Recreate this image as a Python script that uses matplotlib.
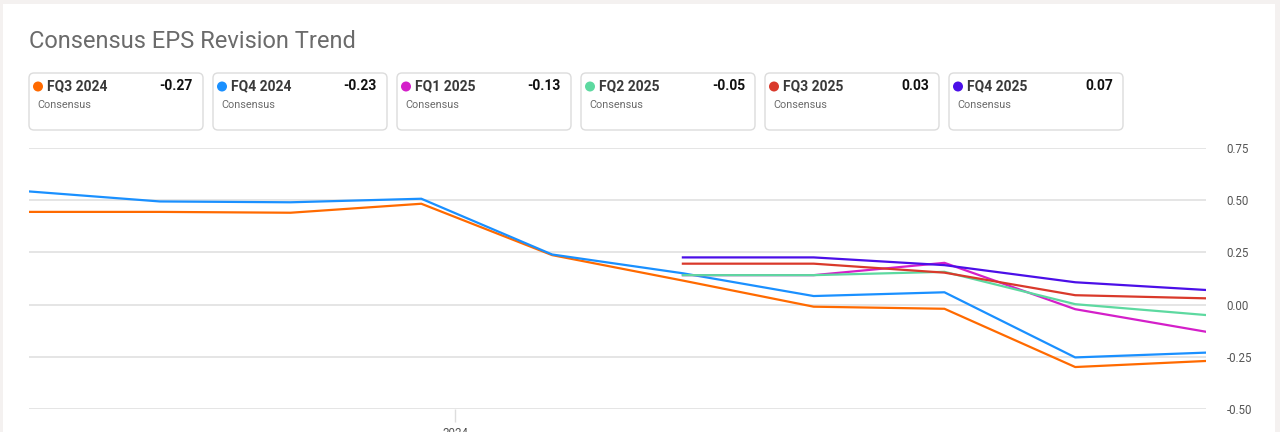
import numpy as np
import matplotlib
matplotlib.use("Agg")
import matplotlib.pyplot as plt
from matplotlib.patches import FancyBboxPatch, Rectangle, Circle

plt.rcParams['font.family'] = ['Roboto', 'DejaVu Sans']

# series data (10 revision points), nan = not yet estimated
quarters = ["FQ3 2024", "FQ4 2024", "FQ1 2025", "FQ2 2025", "FQ3 2025", "FQ4 2025"]
colors = ["#FF6A00", "#1A90FF", "#D41FC9", "#5DD9A0", "#D9392B", "#4B0FE8"]
nan = np.nan
fq3_2024 = [0.444, 0.444, 0.44, 0.483, 0.237, 0.115, -0.01, -0.02, -0.299, -0.27]
fq4_2024 = [0.542, 0.494, 0.49, 0.507, 0.24, 0.15, 0.041, 0.059, -0.253, -0.23]
fq1_2025 = [nan, nan, nan, nan, nan, 0.141, 0.141, 0.2, -0.022, -0.13]
fq2_2025 = [nan, nan, nan, nan, nan, 0.141, 0.141, 0.157, 0.002, -0.05]
fq3_2025 = [nan, nan, nan, nan, nan, 0.196, 0.196, 0.153, 0.045, 0.03]
fq4_2025 = [nan, nan, nan, nan, nan, 0.226, 0.226, 0.189, 0.107, 0.07]
series = [fq3_2024, fq4_2024, fq1_2025, fq2_2025, fq3_2025, fq4_2025]
yticks = [-0.50, -0.25, 0.00, 0.25, 0.50, 0.75]
year_tick = 3.26
year_label = "2024"

W, H = 1280, 432
fig = plt.figure(figsize=(W / 100, H / 100), dpi=100)
fig.patch.set_facecolor("#F4F1F0")

# background card + legend boxes, drawn in pixel coords
bg = fig.add_axes([0, 0, 1, 1], zorder=0)
bg.set_xlim(0, W)
bg.set_ylim(H, 0)
bg.axis('off')
bg.add_patch(Rectangle((3, 4), 1272, 440, facecolor="white", edgecolor="none"))
bg.text(29, 42, "Consensus EPS Revision Trend", fontsize=17, color="#6b6b6b",
        va="center", ha="left")

box_w, box_gap = 174, 10
for i, (name, col, vals) in enumerate(zip(quarters, colors, series)):
    x0 = 29 + i * (box_w + box_gap)
    bg.add_patch(FancyBboxPatch((x0, 73), box_w, 57, boxstyle="round,pad=0,rounding_size=5",
                                facecolor="white", edgecolor="#dcdcdc", linewidth=1.0))
    bg.add_patch(Circle((x0 + 9, 86.5), 5, facecolor=col, edgecolor="none"))
    bg.text(x0 + 18, 86.5, name, fontsize=10, fontweight="bold", color="#3a3a3a",
            va="center", ha="left")
    bg.text(x0 + box_w - 10, 86.5, f"{vals[-1]:.2f}", fontsize=10, fontweight="bold",
            color="#111111", va="center", ha="right")
    bg.text(x0 + 8, 104.5, "Consensus", fontsize=7.8, color="#6b6b6b", va="center", ha="left")

# main line chart
left, right = 29 / W, 1206 / W
bottom, top = (H - 409) / H, (H - 148) / H
ax = fig.add_axes([left, bottom, right - left, top - bottom], zorder=1)
ax.set_facecolor("none")
x = np.arange(len(fq3_2024))
for vals, col in zip(series, colors):
    ax.plot(x, vals, color=col, linewidth=1.6, solid_joinstyle="round")

ax.set_xlim(0, len(x) - 1)
ax.set_ylim(-0.5, 0.75)
ax.set_yticks(yticks)
ax.set_yticklabels([f"{v:.2f}" for v in yticks])
ax.yaxis.tick_right()
ax.tick_params(axis='y', length=0, pad=15, labelsize=8.3, labelcolor="#555555")
ax.grid(axis='y', color="#e3e3e3", linewidth=1.3)
ax.set_axisbelow(True)
ax.set_xticks([year_tick])
ax.set_xticklabels([year_label])
ax.tick_params(axis='x', length=9, width=1.0, color="#dddddd", pad=4,
               labelsize=8.3, labelcolor="#555555")
for s in ax.spines.values():
    s.set_visible(False)

fig.savefig("out.png", dpi=100, facecolor=fig.get_facecolor())
